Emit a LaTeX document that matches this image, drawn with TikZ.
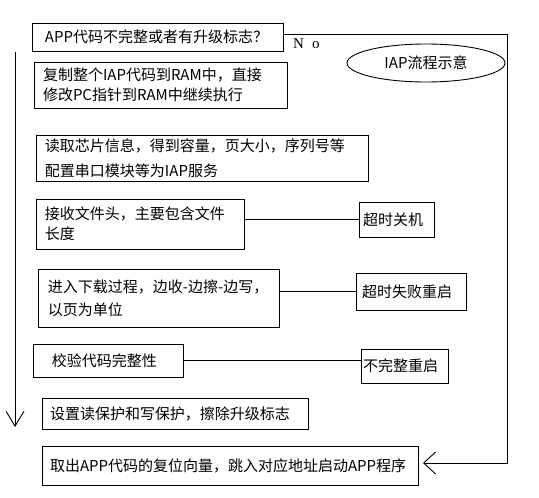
\documentclass[tikz,border=0pt]{standalone}
\usepackage{fontspec}
\newfontfamily\cjk{Noto Sans CJK SC}
\newfontfamily\serifN{Liberation Serif}
\usetikzlibrary{shapes.geometric,arrows.meta,calc}
\tikzset{
  box/.style={draw, line width=0.9pt, anchor=north west, align=left, inner ysep=0pt,
    outer sep=0pt, font=\cjk\fontsize{15}{20}\selectfont},
  conn/.style={line width=0.9pt},
  oval/.style={draw, ellipse, line width=0.9pt, inner sep=0pt, font=\cjk\fontsize{15}{18}\selectfont}
}
\begin{document}
\begin{tikzpicture}[x=1pt,y=-1pt]
\fill[white] (0,0) rectangle (539,498);
\useasboundingbox (0,0) rectangle (539,498);
% main column
\node[box, minimum width=251pt, minimum height=28pt, inner xsep=13pt, text width=225pt] (b1) at (32,23) {APP代码不完整或者有升级标志？};
\node[box, minimum width=253pt, minimum height=46pt, inner xsep=9pt, text width=235pt] (b2) at (34,62) {复制整个IAP代码到RAM中，直接\\修改PC指针到RAM中继续执行};
\node[box, minimum width=332pt, minimum height=46pt, inner xsep=9pt, text width=314pt, font=\cjk\fontsize{15}{25}\selectfont] (b3) at (36,135) {读取芯片信息，得到容量，页大小，序列号等\\配置串口模块等为IAP服务};
\node[box, minimum width=208pt, minimum height=50pt, inner xsep=9pt, text width=190pt] (b4) at (36,199) {接收文件头，主要包含文件\\长度};
\node[box, minimum width=241pt, minimum height=58pt, inner xsep=10pt, text width=221pt, font=\cjk\fontsize{15}{23}\selectfont] (b5) at (38,269) {进入下载过程，边收-边擦-边写，\\以页为单位};
\node[box, minimum width=150pt, minimum height=33pt, inner xsep=19pt, text width=112pt] (b6) at (33,344) {校验代码完整性};
\node[box, minimum width=266pt, minimum height=31pt, inner xsep=8pt, text width=250pt] (b7) at (42,398) {设置读保护和写保护，擦除升级标志};
\node[box, minimum width=376pt, minimum height=39pt, inner xsep=8pt, text width=360pt] (b8) at (42,446) {取出APP代码的复位向量，跳入对应地址启动APP程序};
% side boxes
\node[box, minimum width=75pt, minimum height=35pt, inner xsep=4pt, text width=67pt] (t1) at (359,202) {超时关机};
\node[box, minimum width=110pt, minimum height=37pt, inner xsep=6pt, text width=98pt] (t2) at (356,273) {超时失败重启};
\node[box, minimum width=87pt, minimum height=34pt, inner xsep=2pt, text width=83pt] (t3) at (361,349) {不完整重启};
% ellipse
\node[oval, minimum width=158pt, minimum height=38pt] (e1) at (426,63) {IAP流程示意};
% No label
\node[anchor=base west, inner sep=0pt, font=\serifN\fontsize{15}{18}\selectfont] (no) at (293,48) {N\hspace{8pt}o};
% coordinates
\coordinate (lt) at (15,52);
\coordinate (lb) at (15,427);
\coordinate (cR) at (507,34);
\coordinate (cB) at (507,463);
\coordinate (aT) at ($(b8.east |- cB)+(5,0)$);
% connectors
\draw[conn, -{Straight Barb[length=15pt,width=18pt]}] (lt) -- (lb);
\draw[conn, -{Straight Barb[length=12pt,width=22pt]}] (b1.east |- cR) -- (cR) -- (cB) -- (aT);
\draw[conn] (b4.east |- t1.west) -- (t1.west);
\draw[conn] (b5.east |- t2.west) -- (t2.west);
\draw[conn] (b6.east) -- (b6.east -| t3.west);
\end{tikzpicture}
\end{document}
